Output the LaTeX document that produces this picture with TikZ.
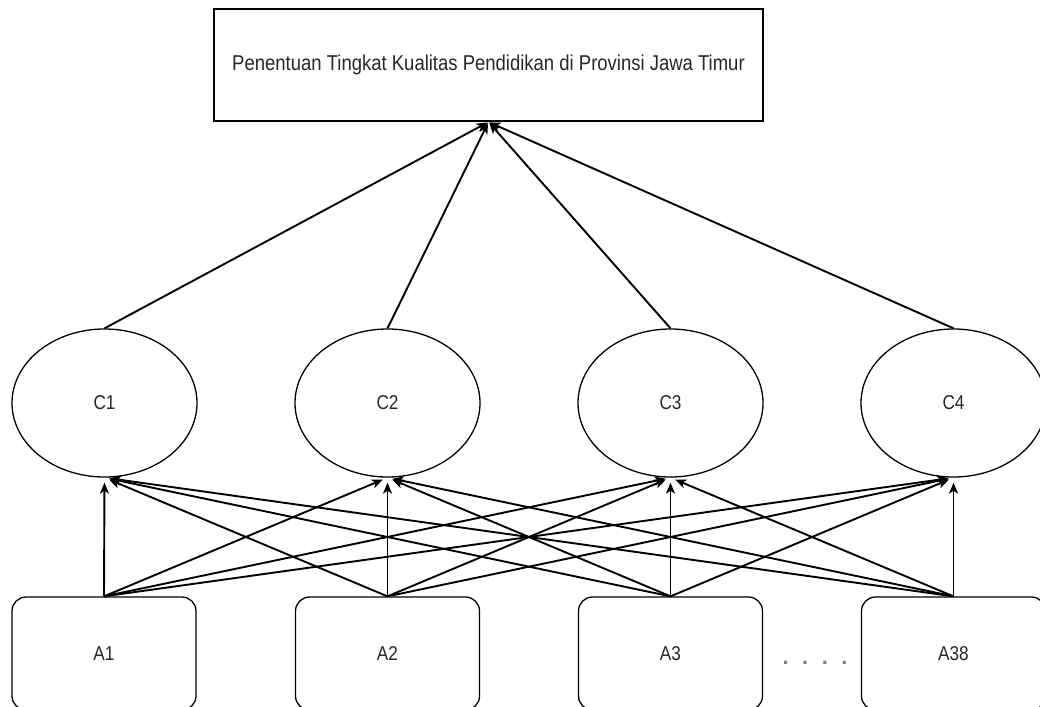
\documentclass[tikz,border=0pt]{standalone}
\usepackage{fontspec}
\setmainfont{Liberation Sans}
\newfontfamily\narrowfont[FakeStretch=0.86]{Liberation Sans}
\usetikzlibrary{shapes.geometric,arrows.meta}
\definecolor{textgray}{RGB}{40,40,40}
\begin{document}
\begin{tikzpicture}[x=1pt,y=-1pt,
  txt/.style={text=textgray, font=\narrowfont\fontsize{20}{22}\selectfont},
  crit/.style={ellipse, draw, line width=1.3pt, minimum width=185pt, minimum height=148pt, inner sep=0pt, txt},
  alt/.style={draw, rounded corners=14pt, line width=1.3pt, minimum width=184pt, minimum height=113pt, inner sep=0pt, txt},
  goal/.style={draw, line width=2pt, minimum width=549pt, minimum height=111.5pt, inner sep=0pt, text=textgray, font=\narrowfont\fontsize{21.5}{24}\selectfont},
  link/.style={line width=1.9pt, -{Stealth[length=11pt,width=9pt,inset=3pt]}, shorten >=1pt},
  arr/.style={line width=1.9pt, -{Stealth[length=11pt,width=9pt,inset=3pt]}, shorten >=5pt}
]
\useasboundingbox (0,0) rectangle (1040,706);
\clip (0,0) rectangle (1040,706);
\fill[white] (0,0) rectangle (1040,706);

\node[goal] (G) at (488.5,65.25) {Penentuan Tingkat Kualitas Pendidikan di Provinsi Jawa Timur};

\node[crit] (C1) at (104.5,403) {C1};
\node[crit] (C2) at (387.5,403) {C2};
\node[crit] (C3) at (670.5,403) {C3};
\node[crit] (C4) at (953.5,403) {C4};

\node[alt] (A1) at (104,653.5) {A1};
\node[alt] (A2) at (387.5,653.5) {A2};
\node[alt] (A3) at (670.5,653.5) {A3};
\node[alt] (A38) at (953.5,653.5) {A38};

\node[text=gray, font=\fontsize{22}{24}\selectfont\bfseries, inner sep=0pt] (dots) at (815,663) {.\hspace{13.5pt}.\hspace{13.5pt}.\hspace{13.5pt}.};

\foreach \c in {1,...,4} \draw[link] (C\c.north) -- (G.south);
\foreach \a in {1,2,3,38} \foreach \c in {1,...,4} \draw[arr] (A\a.north) -- (C\c.south);
\end{tikzpicture}
\end{document}
